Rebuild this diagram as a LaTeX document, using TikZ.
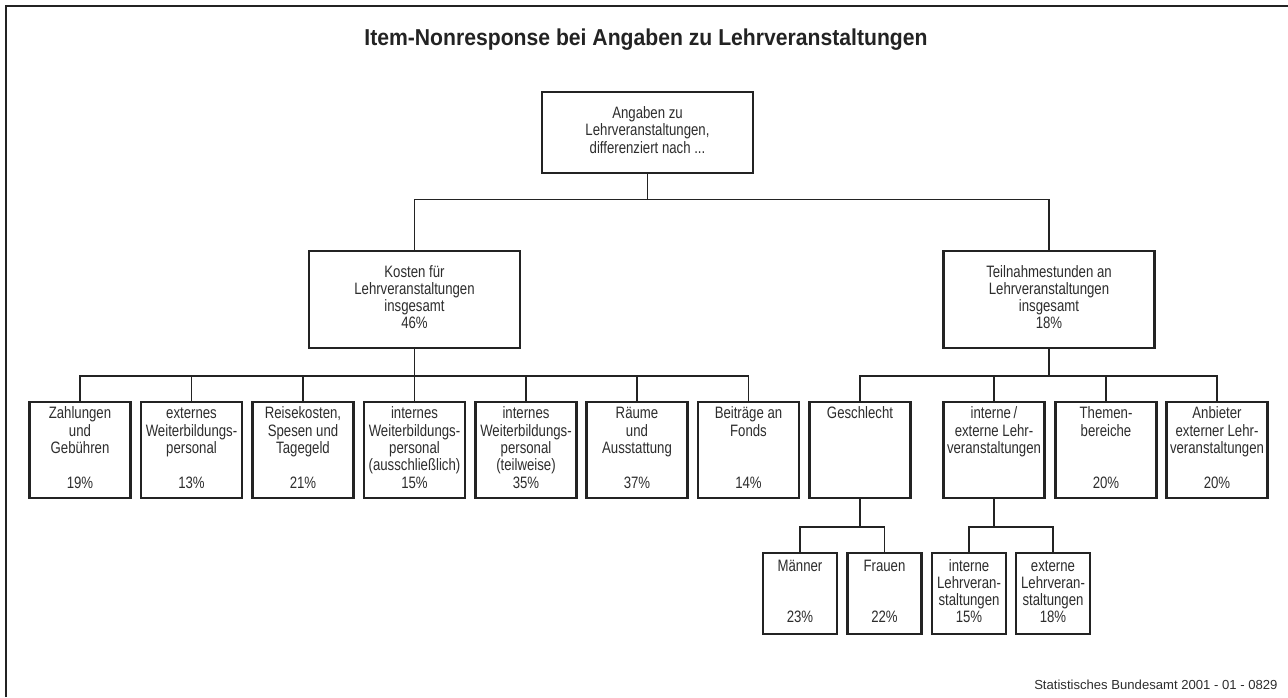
\documentclass[tikz,border=0pt]{standalone}
\usepackage{fontspec}
\setmainfont{Liberation Sans}[FakeStretch=0.8]
\newfontfamily\footfont{Liberation Sans}
\newfontfamily\titlefont{Liberation Sans}[FakeStretch=0.92]
\definecolor{ink}{RGB}{35,35,35}
\definecolor{txt}{RGB}{45,45,45}
\begin{document}
\begin{tikzpicture}[x=1pt,y=-1pt,
  box/.style={draw=ink,line width=2.2pt,fill=white,align=center,inner sep=0pt,
    text=txt,font=\fontsize{16.5}{17.3}\selectfont},
  bigbox/.style={box,minimum width=211pt},
  midbox/.style={box,minimum width=101pt,minimum height=96pt},
  smallbox/.style={box,minimum width=74pt,minimum height=81pt},
  link/.style={draw=ink,line width=1.3pt}]
\path[use as bounding box] (0,0) rectangle (1288,697);
\draw[ink,line width=2.4pt] (6,697) -- (6,6) -- (1290,6);

\node[font=\titlefont\bfseries\fontsize{23}{26}\selectfont,text=ink] (title) at (646,40)
  {Item-Nonresponse bei Angaben zu Lehrveranstaltungen};

\node[bigbox,minimum height=81pt] (top) at (647.5,132.5)
  {\strut Angaben zu\\\strut Lehrveranstaltungen,\\\strut differenziert nach ...};
\node[bigbox,minimum height=97pt] (kost) at (414.5,299.5)
  {\strut Kosten für\\\strut Lehrveranstaltungen\\\strut insgesamt\\\strut 46\%};
\node[bigbox,minimum height=97pt] (teil) at (1049,299.5)
  {\strut Teilnahmestunden an\\\strut Lehrveranstaltungen\\\strut insgesamt\\\strut 18\%};

% level 2 (costs)
\node[midbox] (k1) at (80,450) {\strut Zahlungen\\\strut und\\\strut Gebühren\\\strut\\\strut 19\%};
\node[midbox] (k2) at (191.5,450) {\strut externes\\\strut Weiterbildungs-\\\strut personal\\\strut\\\strut 13\%};
\node[midbox] (k3) at (303,450) {\strut Reisekosten,\\\strut Spesen und\\\strut Tagegeld\\\strut\\\strut 21\%};
\node[midbox] (k4) at (414.5,450) {\strut internes\\\strut Weiterbildungs-\\\strut personal\\\strut (ausschließlich)\\\strut 15\%};
\node[midbox] (k5) at (526,450) {\strut internes\\\strut Weiterbildungs-\\\strut personal\\\strut (teilweise)\\\strut 35\%};
\node[midbox] (k6) at (637,450) {\strut Räume\\\strut und\\\strut Ausstattung\\\strut\\\strut 37\%};
\node[midbox] (k7) at (748.5,450) {\strut Beiträge an\\\strut Fonds\\\strut\\\strut\\\strut 14\%};

% level 2 (hours)
\node[midbox] (t1) at (860,450) {\strut Geschlecht\\\strut\\\strut\\\strut\\\strut};
\node[midbox] (t2) at (994,450) {\strut interne\,/\\\strut externe Lehr-\\\strut veranstaltungen\\\strut\\\strut};
\node[midbox] (t3) at (1106,450) {\strut Themen-\\\strut bereiche\\\strut\\\strut\\\strut 20\%};
\node[midbox] (t4) at (1217,450) {\strut Anbieter\\\strut externer Lehr-\\\strut veranstaltungen\\\strut\\\strut 20\%};

% level 3
\node[smallbox] (s1) at (800,593.5) {\strut Männer\\\strut\\\strut\\\strut 23\%};
\node[smallbox] (s2) at (884.5,593.5) {\strut Frauen\\\strut\\\strut\\\strut 22\%};
\node[smallbox] (s3) at (969,593.5) {\strut interne\\\strut Lehrveran-\\\strut staltungen\\\strut 15\%};
\node[smallbox] (s4) at (1053,593.5) {\strut externe\\\strut Lehrveran-\\\strut staltungen\\\strut 18\%};

% connectors
\draw[link] (top.south) -- ++(0,25.5) -| (kost.north);
\draw[link] (top.south) -- ++(0,25.5) -| (teil.north);
\foreach \c in {k1,k2,k3,k4,k5,k6,k7}
  \draw[link] (kost.south) -- ++(0,27) -| (\c.north);
\foreach \c in {t1,t2,t3,t4}
  \draw[link] (teil.south) -- ++(0,27) -| (\c.north);
\foreach \c in {s1,s2}
  \draw[link] (t1.south) -- ++(0,28) -| (\c.north);
\foreach \c in {s3,s4}
  \draw[link] (t2.south) -- ++(0,28) -| (\c.north);

\node[font=\footfont\fontsize{13.1}{15}\selectfont,text=txt,anchor=base east] (foot) at (1281,689)
  {Statistisches Bundesamt 2001 - 01 - 0829};
\end{tikzpicture}
\end{document}
